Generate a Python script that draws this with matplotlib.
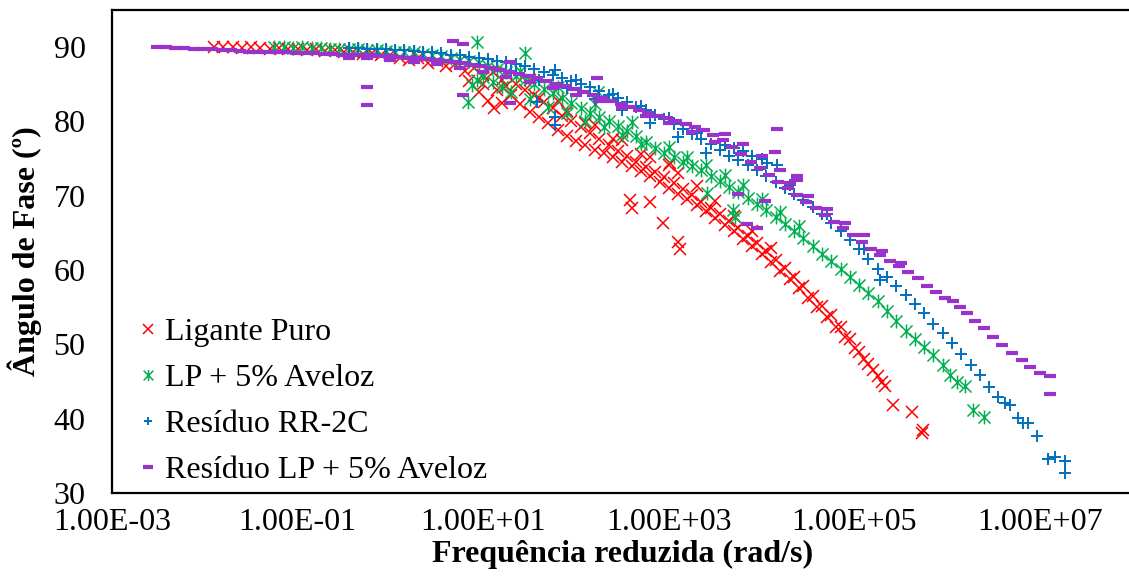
import numpy as np
import matplotlib
matplotlib.use("Agg")
import matplotlib.pyplot as plt
from matplotlib.path import Path

plt.rcParams['font.family'] = ['Liberation Serif', 'DejaVu Serif']

# log10 of reduced frequency (rad/s) and phase angle (deg)
# Ligante Puro
lp_lgf = [-1.90, -1.80, -1.70, -1.60, -1.50, -1.40, -1.30, -1.20, -1.10, -1.00,
          -0.90, -0.80, -0.70, -0.60, -0.50, -0.40, -0.30, -0.20, -0.10, 0.00,
          0.10, 0.20, 0.30, 0.40, 0.50, 0.60, 0.70, 0.80, 0.85, 0.90, 0.95, 1.00,
          1.00, 1.05, 1.10, 1.12, 1.15, 1.20, 1.20, 1.30, 1.35, 1.40, 1.45, 1.50,
          1.50, 1.55, 1.60, 1.65, 1.70, 1.75, 1.80, 1.80, 1.85, 1.90, 1.95, 2.00,
          2.05, 2.10, 2.15, 2.20, 2.20, 2.25, 2.30, 2.35, 2.40, 2.45, 2.50, 2.50,
          2.55, 2.60, 2.65, 2.70, 2.75, 2.80, 2.80, 2.85, 2.90, 2.95, 3.00, 3.00,
          3.05, 3.10, 3.15, 3.20, 3.25, 3.30, 3.35, 3.40, 3.45, 3.50, 3.55, 3.60,
          3.65, 3.70, 3.75, 3.80, 3.85, 3.90, 3.95, 4.00, 4.05, 4.10, 4.15, 4.20,
          4.25, 4.30, 4.35, 4.40, 4.45, 4.50, 4.55, 4.60, 4.65, 4.70, 4.75, 4.80,
          4.85, 4.90, 4.95, 5.00, 5.05, 5.10, 5.15, 5.20, 5.25, 5.30, 5.33, 5.42,
          5.62, 5.73, 5.74,
          1.25, 1.60, 1.90, 2.10, 2.40, 2.70, 3.10, 3.30, 3.50, 3.70, 3.90, 4.10,
          2.58, 2.60, 2.80, 2.94, 3.01, 3.10, 3.12]
lp_ang = [90.0, 90.0, 90.0, 89.9, 90.0, 89.9, 89.8, 89.9, 89.7, 89.8,
          89.6, 89.7, 89.5, 89.6, 89.3, 89.4, 89.1, 89.2, 88.9, 88.9,
          88.6, 88.3, 88.5, 87.9, 88.1, 87.4, 87.7, 86.8, 85.5, 87.2, 84.0, 86.2,
          85.0, 82.8, 86.6, 81.8, 84.3, 85.6, 82.5, 83.5, 85.0, 82.4, 84.2, 81.3,
          85.6, 83.5, 80.6, 82.6, 79.8, 81.8, 78.9, 82.8, 80.8, 78.1, 80.0, 77.4,
          79.2, 76.8, 78.4, 76.2, 79.5, 77.6, 75.7, 76.8, 75.2, 76.0, 74.6, 77.5,
          75.3, 74.0, 74.6, 73.3, 73.9, 72.6, 75.2, 73.2, 71.8, 72.5, 71.1, 74.2,
          71.7, 70.3, 70.9, 69.5, 70.1, 68.7, 69.2, 67.9, 68.4, 67.0, 67.5, 66.1,
          66.6, 65.2, 65.6, 64.2, 64.6, 63.2, 63.6, 62.2, 62.5, 61.1, 61.4, 59.9,
          60.3, 58.8, 59.0, 57.6, 57.8, 56.3, 56.5, 55.0, 55.2, 53.7, 53.9, 52.4,
          52.3, 51.0, 50.7, 49.5, 49.0, 48.0, 47.3, 46.5, 45.8, 45.0, 44.4, 41.8,
          40.9, 38.1, 38.5,
          84.8, 83.2, 81.4, 79.8, 77.6, 75.6, 73.0, 71.3, 69.3, 67.3, 65.3, 63.0,
          69.4, 68.3, 69.1, 66.4, 74.4, 63.8, 62.8]

# LP + 5% Aveloz
av_lgf = [-1.25, -1.15, -1.05, -0.95, -0.85, -0.75, -0.65, -0.55, -0.45, -0.35,
          -0.25, -0.15, -0.05, 0.05, 0.15, 0.25, 0.35, 0.45, 0.55, 0.65, 0.75,
          0.85, 0.95, 1.05, 1.15, 1.25, 1.35, 1.45, 1.55, 1.65, 1.75, 1.85, 1.95,
          2.05, 2.15, 2.25, 2.35, 2.45, 2.55, 2.65, 2.75, 2.85, 2.95, 3.05, 3.15,
          3.25, 3.35, 3.45, 3.55, 3.65, 3.75, 3.85, 3.95, 4.05, 4.15, 4.25, 4.35,
          4.45, 4.55, 4.65, 4.75, 4.85, 4.95, 5.05, 5.15, 5.25, 5.35, 5.45, 5.55,
          5.65, 5.75, 5.85, 5.95, 6.03, 6.10, 6.19, 6.28, 6.39,
          1.00, 1.10, 1.20, 1.30, 1.50, 1.70, 1.90, 2.10, 2.30, 2.50, 2.70,
          1.40, 1.80, 2.20, 2.60, 3.00, 3.20, 3.40, 3.60, 3.80, 4.00, 4.20, 4.40,
          0.93, 1.45, 0.84, 0.88, 0.93, 2.24, 3.41, 3.69, 3.71]
av_ang = [90.0, 90.0, 89.9, 90.0, 89.9, 89.9, 89.8, 89.8, 89.7, 89.7,
          89.6, 89.6, 89.5, 89.4, 89.3, 89.3, 89.1, 89.0, 88.8, 88.6, 88.3,
          88.1, 87.8, 87.4, 87.0, 86.6, 86.1, 85.6, 85.0, 84.4, 83.8, 83.1, 82.5,
          81.8, 81.2, 80.6, 80.0, 79.4, 78.7, 78.0, 77.2, 76.4, 75.8, 75.2, 74.6,
          74.0, 73.4, 72.7, 72.0, 71.2, 70.5, 69.7, 68.9, 68.1, 67.2, 66.2, 65.3,
          64.3, 63.2, 62.2, 61.2, 60.1, 59.1, 58.0, 56.9, 55.8, 54.5, 53.1, 51.8,
          50.7, 49.7, 48.6, 47.2, 45.9, 45.0, 44.4, 41.2, 40.2,
          86.0, 85.3, 84.6, 84.0, 83.0, 82.0, 81.2, 80.0, 79.2, 78.2, 77.0,
          86.8, 84.7, 82.4, 79.9, 76.5, 75.2, 74.2, 72.8, 71.4, 69.5, 67.8, 65.9,
          90.7, 89.2, 82.6, 84.9, 85.6, 84.0, 70.4, 68.1, 67.1]

# Resíduo RR-2C
rr_lgf = [-0.45, -0.35, -0.25, -0.15, -0.05, 0.05, 0.15, 0.25, 0.35, 0.45,
          0.55, 0.65, 0.75, 0.85, 0.95, 1.05, 1.15, 1.25, 1.35, 1.45, 1.55,
          1.65, 1.75, 1.85, 1.95, 2.05, 2.15, 2.25, 2.35, 2.45, 2.55, 2.65, 2.75,
          2.85, 2.95, 3.05, 3.15, 3.25, 3.35, 3.45, 3.55, 3.65, 3.75, 3.85, 3.95,
          4.05, 4.15, 4.25, 4.35, 4.45, 4.55, 4.65, 4.75, 4.85, 4.95, 5.05, 5.15,
          5.25, 5.35, 5.45, 5.55, 5.65, 5.75, 5.85, 5.95, 6.05, 6.15, 6.25, 6.35,
          6.45, 6.55, 6.62, 6.68, 6.76, 6.81, 6.87, 6.97, 7.08, 7.16, 7.27, 7.27,
          1.30, 1.60, 1.90, 2.20, 2.50, 2.80, 3.10, 3.40,
          2.00, 2.40, 2.70, 3.00, 3.30, 3.60, 4.30, 4.70, 5.10,
          3.70, 3.80, 3.90, 4.00, 4.06, 4.17,
          5.28, 1.77, 1.77, 1.77, 1.58]
rr_ang = [89.9, 89.9, 89.8, 89.8, 89.7, 89.6, 89.6, 89.5, 89.4, 89.3,
          89.2, 89.0, 88.9, 88.7, 88.6, 88.4, 88.2, 88.0, 87.7, 87.4, 87.1,
          86.7, 86.3, 85.9, 85.5, 85.0, 84.6, 84.1, 83.6, 83.1, 82.6, 82.0, 81.5,
          80.9, 80.3, 79.7, 79.0, 78.3, 77.6, 76.9, 76.2, 75.4, 74.8, 74.1, 73.4,
          72.7, 71.9, 71.1, 70.3, 69.4, 68.5, 67.5, 66.4, 65.2, 64.0, 62.8, 61.5,
          60.2, 59.0, 57.8, 56.6, 55.4, 54.2, 52.8, 51.5, 50.2, 48.7, 47.2, 45.9,
          44.2, 42.9, 42.1, 41.8, 40.1, 39.4, 39.4, 37.7, 34.6, 34.8, 34.3, 32.7,
          86.8, 85.6, 84.5, 83.0, 81.6, 79.8, 77.9, 75.8,
          85.6, 83.7, 82.1, 80.4, 78.4, 76.8, 71.4, 67.5, 62.9,
          76.4, 76.0, 75.4, 75.0, 74.4, 74.1,
          58.7, 86.9, 80.6, 79.5, 82.6]

# Resíduo LP + 5% Aveloz
ra_lgf = [-2.52, -2.42, -2.32, -2.22, -2.12, -2.02, -1.92, -1.82, -1.72, -1.62,
          -1.52, -1.42, -1.32, -1.22, -1.12, -1.02, -0.92, -0.82, -0.72, -0.62,
          -0.52, -0.42, -0.32, -0.22, -0.12, -0.02, 0.08, 0.18, 0.28, 0.38, 0.48,
          0.58, 0.68, 0.78, 0.88, 0.98, 1.08, 1.18, 1.28, 1.38, 1.48, 1.58, 1.68,
          1.78, 1.88, 1.98, 2.08, 2.18, 2.28, 2.38, 2.48, 2.58, 2.68, 2.78, 2.88,
          2.98, 3.08, 3.18, 3.28, 3.38, 3.48, 3.58, 3.68, 3.78, 3.88, 3.98, 4.08,
          4.18, 4.28, 4.38, 4.48, 4.58, 4.68, 4.78, 4.88, 4.98, 5.08, 5.18, 5.28,
          5.38, 5.48, 5.58, 5.68, 5.78, 5.88, 5.98, 6.06, 6.14, 6.21, 6.30, 6.39,
          6.49, 6.59, 6.70, 6.80, 6.89, 7.00, 7.11, 7.11,
          -0.45, -0.25, 0.00, 0.25, 0.50, 0.75, 1.00, 1.25, 1.50, 1.75, 2.00,
          2.25, 2.50, 2.75, 3.00, 3.25, 3.50, 3.60, 3.80, 4.00, 4.20,
          4.30, 4.50, 4.70, 4.90, 5.10, 5.30, 5.50,
          -0.25, -0.25, 0.67, 0.78, 0.78, 1.29, 1.29, 2.23, 4.16, 4.14, 4.38,
          4.38, 3.75, 4.04, 3.84, 3.95]
ra_ang = [90.0, 90.0, 89.9, 89.9, 89.8, 89.8, 89.7, 89.6, 89.6, 89.5,
          89.4, 89.4, 89.3, 89.3, 89.3, 89.2, 89.2, 89.2, 89.1, 89.1,
          89.0, 89.0, 88.9, 88.9, 88.8, 88.8, 88.7, 88.6, 88.5, 88.4, 88.3,
          88.1, 88.0, 87.8, 87.6, 87.4, 87.2, 86.9, 86.7, 86.4, 86.1, 85.8, 85.5,
          85.1, 84.8, 84.4, 84.0, 83.6, 83.2, 82.8, 82.4, 82.0, 81.6, 81.2, 80.8,
          80.4, 80.0, 79.6, 79.2, 78.8, 78.2, 77.5, 76.6, 75.6, 74.6, 73.7, 72.8,
          71.9, 71.0, 70.1, 69.2, 68.3, 67.4, 66.5, 65.6, 64.7, 63.8, 62.9, 62.0,
          61.2, 60.5, 59.8, 58.9, 57.9, 57.0, 56.3, 55.9, 55.0, 54.2, 53.2, 52.2,
          51.0, 49.9, 48.8, 47.9, 47.0, 46.1, 45.7, 43.3,
          88.6, 88.5, 88.3, 88.0, 87.7, 87.2, 86.6, 86.0, 85.3, 84.5, 83.6,
          82.7, 81.8, 80.8, 79.8, 78.6, 77.2, 78.3, 77.0, 75.4, 73.5,
          71.7, 70.0, 68.2, 66.3, 64.7, 62.6, 61.0,
          84.6, 82.2, 90.8, 90.4, 83.5, 88.0, 82.5, 85.8, 79.0, 75.9, 72.6,
          72.1, 70.2, 69.3, 66.2, 65.6]

labels = ['Ligante Puro', 'LP + 5% Aveloz', 'Resíduo RR-2C', 'Resíduo LP + 5% Aveloz']
xtick_vals = [1e-3, 1e-1, 1e1, 1e3, 1e5, 1e7]
xtick_labels = ['1.00E-03', '1.00E-01', '1.00E+01', '1.00E+03', '1.00E+05', '1.00E+07']
ytick_vals = [30, 40, 50, 60, 70, 80, 90]

# Excel-style "star" marker: an x with a vertical bar
star = Path([(-1, -1), (1, 1), (-1, 1), (1, -1), (0, -1.15), (0, 1.15)],
            [Path.MOVETO, Path.LINETO] * 3)

fig = plt.figure(figsize=(11.29, 5.78), dpi=100)
ax = fig.add_axes([0.0992, 0.1471, 0.9043, 0.8356])

ax.plot(10 ** np.array(lp_lgf), lp_ang, ls='none', marker='x', ms=8.5, mew=1.1,
        color='#FF0000', label=labels[0])
ax.plot(10 ** np.array(av_lgf), av_ang, ls='none', marker=star, ms=10, mew=1.1,
        color='#00B050', label=labels[1])
ax.plot(10 ** np.array(rr_lgf), rr_ang, ls='none', marker='+', ms=8, mew=1.4,
        color='#0070C0', label=labels[2])
ax.plot(10 ** np.array(ra_lgf), ra_ang, ls='none', marker='_', ms=9, mew=3,
        color='#9933CC', label=labels[3])

ax.set_xscale('log')
ax.set_xlim(1e-3, 1e8)
ax.set_ylim(30, 95)
ax.set_xticks(xtick_vals)
ax.set_xticklabels(xtick_labels)
ax.xaxis.set_minor_locator(matplotlib.ticker.NullLocator())
ax.set_yticks(ytick_vals)
ax.tick_params(axis='both', length=0)
ax.tick_params(axis='x', labelsize=23, pad=11)
ax.tick_params(axis='y', labelsize=23, pad=19)

for s in ax.spines.values():
    s.set_linewidth(1.6)

ax.set_xlabel('Frequência reduzida (rad/s)', fontsize=23, fontweight='bold', labelpad=2)
ax.set_ylabel('Ângulo de Fase (º)', fontsize=23, fontweight='bold', labelpad=8)

ax.legend(loc='lower left', bbox_to_anchor=(0.007, -0.017), frameon=False,
          fontsize=23, handlelength=0.8, handletextpad=0.15, labelspacing=0.52,
          borderpad=0, markerscale=0.8)

fig.savefig('out.png', dpi=100)
